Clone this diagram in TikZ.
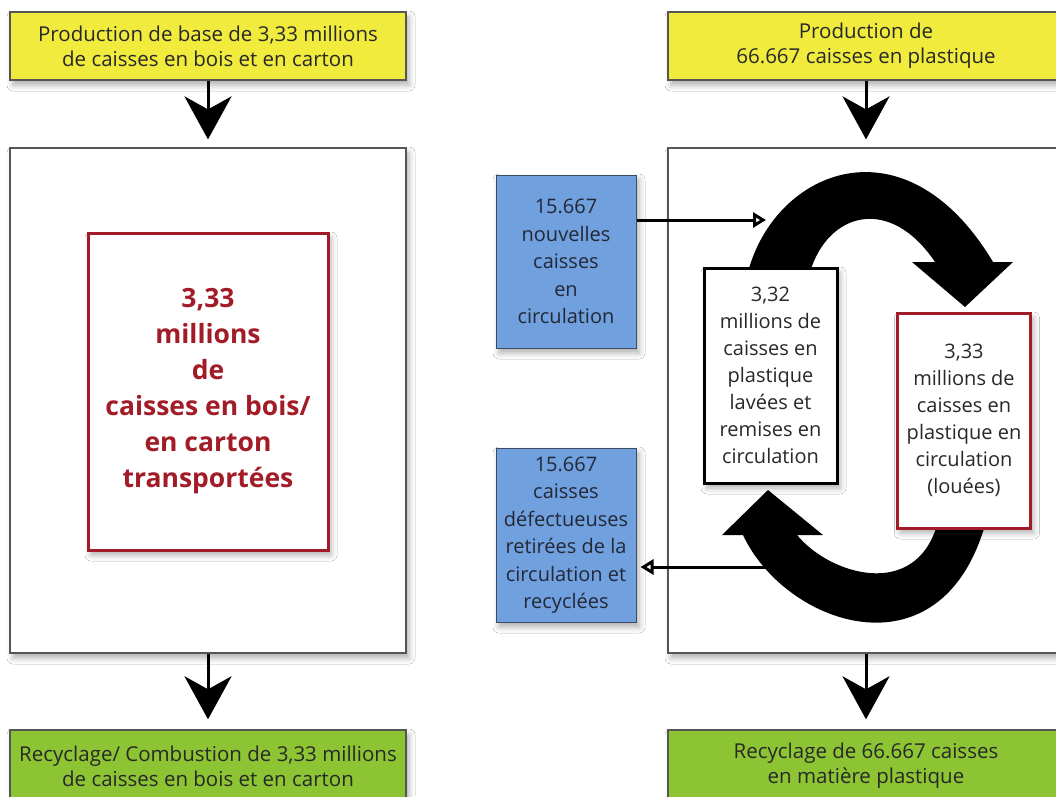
\documentclass[tikz,border=0pt]{standalone}
\usepackage{fontspec}
\setmainfont{Open Sans}
\usetikzlibrary{arrows.meta,shadows.blur}
\definecolor{yel}{RGB}{240,235,60}
\definecolor{grn}{RGB}{141,196,52}
\definecolor{blu}{RGB}{112,160,222}
\definecolor{bluebord}{RGB}{60,75,100}
\definecolor{bluetxt}{RGB}{35,40,55}
\definecolor{dred}{RGB}{162,28,40}
\definecolor{bord}{RGB}{85,85,85}
\definecolor{txt}{RGB}{40,40,40}
\begin{document}
\begin{tikzpicture}[x=1pt,y=-1pt,
  every node/.style={inner sep=0pt, align=center, text=txt},
  sh/.style={blur shadow={shadow xshift=3pt,shadow yshift=-5pt,shadow blur radius=6pt,shadow opacity=32}},
  ybox/.style={sh, draw=bord, line width=1.4pt, fill=yel, minimum width=396pt, minimum height=68pt, font=\fontsize{20.5}{25}\selectfont},
  gbox/.style={ybox, fill=grn, minimum height=72pt},
  bigbox/.style={sh, draw=bord, line width=1.2pt, fill=white, minimum width=396pt, minimum height=505pt},
  bbox/.style={sh, draw=bluebord, line width=1pt, fill=blu, minimum width=140pt, font=\fontsize{20}{27.5}\selectfont, text=bluetxt},
  kbox/.style={sh, draw=black, line width=3pt, fill=white, minimum width=133pt, minimum height=215pt, font=\fontsize{20}{27}\selectfont},
  rbox/.style={kbox, draw=dred},
  bigarrow/.style={line width=3pt, -{Stealth[length=43pt,width=47pt,inset=13pt]}},
  conn/.style={line width=3pt, -{Triangle[length=13pt,width=15pt,fill=white]}},
  band/.style={fill=black}
]
\useasboundingbox (0,0) rectangle (1056,796);
\fill[white] (0,0) rectangle (1056,796);

% main boxes
\node[ybox] (y1) at (208,46) {Production de base de 3,33 millions\\de caisses en bois et en carton};
\node[ybox] (y2) at (866,46) {Production de\\66.667 caisses en plastique};
\node[bigbox] (L) at (208,400.5) {};
\node[bigbox] (R) at (866,400.5) {};
\node[gbox] (g1) at (208,766) {Recyclage/ Combustion de 3,33 millions\\de caisses en bois et en carton};
\node[gbox] (g2) at (866,766) {Recyclage de 66.667 caisses\\en matière plastique};

% left red box
\node[sh, draw=dred, line width=3pt, fill=white, minimum width=240pt, minimum height=317pt,
      font=\fontsize{26.5}{36}\selectfont\bfseries, text=dred] (lr) at (208,391.5)
  {3,33\\millions\\de\\caisses en bois/\\en carton\\transportées};

% blue boxes
\node[bbox, minimum height=173pt] (b1) at (566,261.5) {15.667\\nouvelles\\caisses\\en\\circulation};
\node[bbox, minimum height=174pt] (b2) at (566,535) {15.667\\caisses\\défectueuses\\retirées de la\\circulation et\\recyclées};

% outgoing connector (drawn under the lower band)
\coordinate (arcout) at (770,567);
\draw[conn, shorten >=4pt] (arcout) -- (b2.east |- arcout);

% upper circulation band
\fill[band] (748,272) .. controls (775,170) and (905,115) .. (993,262)
  -- (1013,262) -- (965,307) -- (912,262) -- (935,262)
  .. controls (890,195) and (828,212) .. (810,272) -- cycle;
% lower circulation band
\fill[band] (743,535) .. controls (785,625) and (940,680) .. (985,525)
  -- (937,525) .. controls (915,600) and (830,575) .. (797,535)
  -- (823,535) -- (768,490) -- (722,535) -- cycle;

% inner boxes
\node[kbox] (bk) at (770.5,375.5) {3,32\\millions de\\caisses en\\plastique\\lavées et\\remises en\\circulation};
\node[rbox] (rr) at (964,420.5) {3,33\\millions de\\caisses en\\plastique en\\circulation\\(louées)};

% incoming connector
\coordinate (arcin) at (766,220);
\draw[conn] (b1.east |- arcin) -- (arcin);

% big flow arrows
\draw[bigarrow, shorten >=8pt] (y1.south) -- (L.north);
\draw[bigarrow, shorten >=8pt] (y2.south) -- (R.north);
\draw[bigarrow, shorten >=10pt] (L.south) -- (g1.north);
\draw[bigarrow, shorten >=10pt] (R.south) -- (g2.north);
\end{tikzpicture}
\end{document}
